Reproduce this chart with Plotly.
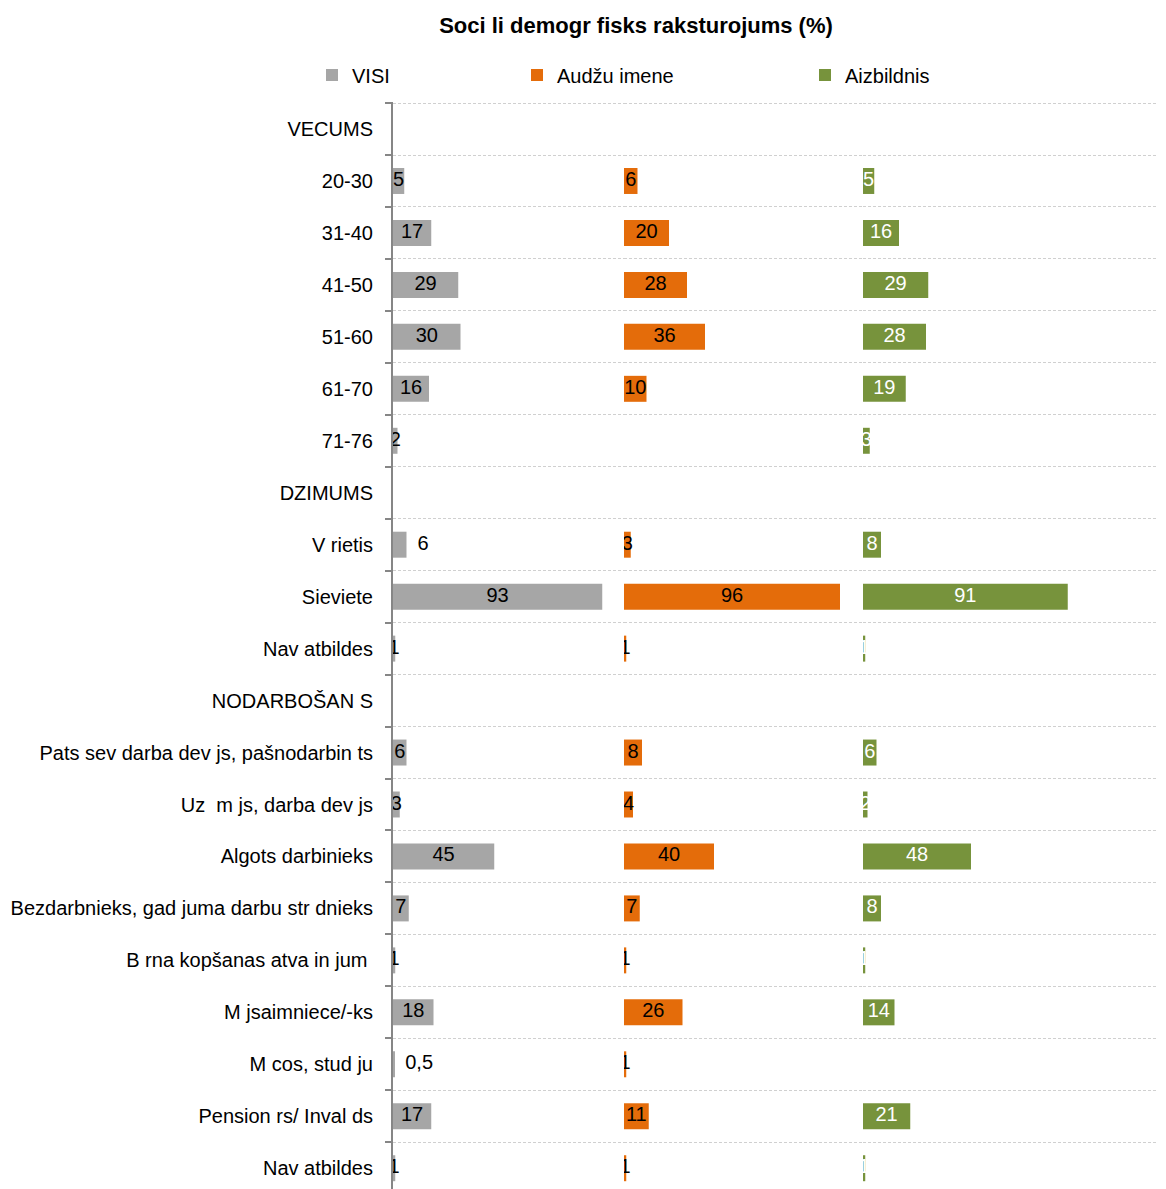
import plotly.graph_objects as go
from plotly.subplots import make_subplots

categories = ["VECUMS", "20-30", "31-40", "41-50", "51-60", "61-70", "71-76",
              "DZIMUMS", "V rietis", "Sieviete", "Nav atbildes",
              "NODARBOŠAN S", "Pats sev darba dev js, pašnodarbin ts",
              "Uz  m js, darba dev js", "Algots darbinieks",
              "Bezdarbnieks, gad juma darbu str dnieks",
              "B rna kopšanas atva in jum ", "M jsaimniece/-ks",
              "M cos, stud ju", "Pension rs/ Inval ds", "Nav atbildes"]

series_names = ["VISI", "Audžu imene", "Aizbildnis"]
visi = [None, 5, 17, 29, 30, 16, 2, None, 6, 93, 1, None, 6, 3, 45, 7, 1, 18, 0.5, 17, 1]
audzu = [None, 6, 20, 28, 36, 10, None, None, 3, 96, 1, None, 8, 4, 40, 7, 1, 26, 1, 11, 1]
aizb = [None, 5, 16, 29, 28, 19, 3, None, 8, 91, 1, None, 6, 2, 48, 8, 1, 14, None, 21, 1]
# labels that sit outside the bar (only in VISI)
visi_outside = ["V rietis", "M cos, stud ju"]

colors = ["#A6A6A6", "#E46C0A", "#77933C"]
label_colors = ["black", "black", "white"]
FONT = "Liberation Sans, Arial, sans-serif"

rows = list(range(len(categories)))
panel_px = [231, 239, 303]
px_per_unit = 2.25

# page body has an 8px margin, so the figure is drawn 8px smaller
W, H = 1158, 1181

fig = make_subplots(rows=1, cols=3, shared_yaxes=True, horizontal_spacing=0,
                    column_widths=panel_px)


def fmt(v):
    return ("%g" % v).replace(".", ",")


for i, vals in enumerate([visi, audzu, aizb]):
    col = i + 1
    fig.add_trace(go.Bar(y=rows, x=vals, orientation="h", name=series_names[i],
                         marker=dict(color=colors[i], line=dict(width=0)),
                         legend="legend" if i == 0 else "legend%d" % (i + 1),
                         hoverinfo="skip"), row=1, col=col)
    # inside labels, centred on each bar
    lx, ly, lt = [], [], []
    ox, oy, ot = [], [], []
    for r, v in zip(rows, vals):
        if v is None:
            continue
        if i == 0 and categories[r] in visi_outside and r < 19:
            ox.append(v)
            oy.append(r)
            ot.append("\u00a0\u00a0" + fmt(v))
        else:
            lx.append(v / 2)
            ly.append(r)
            lt.append(fmt(v))
    fig.add_trace(go.Scatter(x=lx, y=ly, text=lt, mode="text", showlegend=False,
                             textfont=dict(color=label_colors[i], size=20, family=FONT),
                             hoverinfo="skip"), row=1, col=col)
    if ox:
        fig.add_trace(go.Scatter(x=ox, y=oy, text=ot, mode="text", showlegend=False,
                                 textposition="middle right",
                                 textfont=dict(color="black", size=20, family=FONT),
                                 hoverinfo="skip"), row=1, col=col)
    fig.update_xaxes(range=[0, panel_px[i] / px_per_unit], visible=False,
                     fixedrange=True, row=1, col=col)

n = len(categories)
fig.update_yaxes(range=[n - 0.6, -0.52], tickmode="array", tickvals=rows,
                 showgrid=False, zeroline=False, ticks="",
                 minor=dict(tickvals=[r - 0.5 for r in rows], showgrid=True,
                            gridcolor="#D0D0D0", griddash="3px,2px", gridwidth=1,
                            ticks=""))
fig.update_yaxes(ticktext=categories, showline=True, linecolor="#868686", linewidth=2,
                 ticklabelstandoff=14,
                 minor=dict(ticks="outside", ticklen=6, tickcolor="#868686", tickwidth=2),
                 tickfont=dict(size=20, family=FONT, color="black"), row=1, col=1)
fig.update_yaxes(showticklabels=False, row=1, col=2)
fig.update_yaxes(showticklabels=False, row=1, col=3)

legend_style = dict(orientation="h", xref="container", yref="container",
                    yanchor="middle", y=1 - 67 / H, xanchor="left",
                    font=dict(size=20, family=FONT, color="black"),
                    bgcolor="rgba(0,0,0,0)")
fig.update_layout(
    width=W, height=H,
    margin=dict(l=385, r=0, t=94, b=0, autoexpand=False),
    plot_bgcolor="white", paper_bgcolor="white",
    bargap=0.5,
    font=dict(family=FONT, size=20, color="black"),
    title=dict(text="<b>Soci li demogr fisks raksturojums (%)</b>",
               x=628 / W, xanchor="center", xref="container",
               y=1 - 17 / H, yanchor="middle", yref="container",
               font=dict(size=22, family=FONT, color="black")),
    legend=dict(legend_style, x=304 / W),
    legend2=dict(legend_style, x=509 / W),
    legend3=dict(legend_style, x=797 / W),
)

fig.write_html("out.html")
